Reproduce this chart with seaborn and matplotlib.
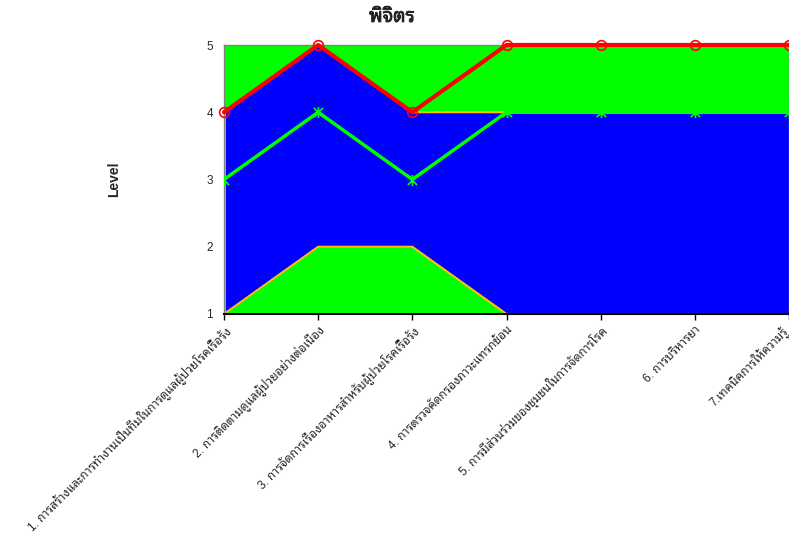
import matplotlib
matplotlib.use("Agg")
import matplotlib.pyplot as plt
import matplotlib.patheffects as pe
import matplotlib.transforms as mtransforms
from matplotlib import font_manager
from matplotlib.ft2font import FT2Font
from matplotlib.path import Path
import numpy as np
import pandas as pd
import seaborn as sns

categories = [
    "1. การสร้างและการทำงานเป็นทีมในการดูแลผู้ป่วยโรคเรื้อรัง",
    "2. การติดตามดูแลผู้ป่วยอย่างต่อเนื่อง",
    "3. การจัดการเรื่องอาหารสำหรับผู้ป่วยโรคเรื้อรัง",
    "4. การตรวจคัดกรองภาวะแทรกซ้อน",
    "5. การมีส่วนร่วมของชุมชนในการจัดการโรค",
    "6. การบริหารยา",
    "7.เทคนิคการให้ความรู้",
]
band_low = [1, 2, 2, 1, 1, 1, 1]
band_high = [4, 5, 4, 4, 4, 4, 4]
target = [4, 5, 4, 5, 5, 5, 5]
actual = [3, 4, 3, 4, 4, 4, 4]
yticks = [1, 2, 3, 4, 5]


def thai_fonts_available():
    found = {}
    for f in font_manager.fontManager.ttflist:
        try:
            cmap = FT2Font(f.fname).get_charmap()
        except Exception:
            continue
        if 0x0E01 in cmap and 0x0E23 in cmap:
            found.setdefault(f.name, set()).add(f.weight)
    return found


thai_fonts = thai_fonts_available()
preferred = ["Tahoma", "Noto Sans Thai Looped", "IBM Plex Sans Thai Looped",
             "Loma", "Noto Sans Thai"]
thai = next((p for p in preferred if p in thai_fonts),
            sorted(thai_fonts)[0] if thai_fonts else "DejaVu Sans")
weights = thai_fonts.get(thai, set())
has_bold = any(w in ("bold", 700) or (isinstance(w, int) and w >= 600) for w in weights)

sns.set_theme(style="white")
plt.rcParams["font.family"] = ["Liberation Sans", thai, "DejaVu Sans"]

fig = plt.figure(figsize=(7.89, 5.36), dpi=100)
ax = fig.add_axes([224 / 789, 1 - 314 / 536, 565 / 789, 269 / 536])

x = np.arange(len(categories))
df = pd.DataFrame({"x": x, "target": target, "actual": actual})

# green plot area with a blue band between the lower and upper bounds
ax.set_facecolor("#00FF00")
ax.fill_between(x, band_low, band_high, color="#0000FF", lw=0, zorder=1)
ax.plot(x, band_low, color="#FFC000", lw=1.5, zorder=2)
ax.plot(x, band_high, color="#FFC000", lw=1.5, zorder=2)
ax.plot([0, 0], [band_low[0], band_high[0]], color="#FFC000", lw=2, zorder=2)

star = Path(
    [(-1, -1), (1, 1), (-1, 1), (1, -1), (0, -1.2), (0, 1.2)],
    [Path.MOVETO, Path.LINETO, Path.MOVETO, Path.LINETO, Path.MOVETO, Path.LINETO],
)

sns.lineplot(data=df, x="x", y="actual", ax=ax, color="#00FF00", lw=2.5,
             marker=star, markersize=8, markeredgecolor="#00FF00",
             markeredgewidth=1.2, zorder=3)
sns.lineplot(data=df, x="x", y="target", ax=ax, color="#FF0000", lw=3,
             marker="o", markersize=7, markerfacecolor="none",
             markeredgecolor="#FF0000", markeredgewidth=1.2, zorder=4,
             clip_on=False)

ax.set_xlim(0, len(categories) - 1)
ax.set_ylim(1, 5)
ax.set_yticks(yticks)
ax.set_yticklabels([str(v) for v in yticks], fontsize=8.5)
ax.set_xticks(x)
ax.set_xticklabels(categories, rotation=45, ha="right", va="top",
                   rotation_mode="anchor", fontsize=8.5)
ax.tick_params(axis="x", direction="out", length=4, width=1, color="black",
               bottom=True, pad=3)
ax.tick_params(axis="y", length=0, pad=8)
ax.set_xlabel("")
ax.set_ylabel("Level", fontsize=10, fontweight="bold", labelpad=0)
ax.yaxis.set_label_coords(-0.182, 0.5)

# pull the last category label inside the figure edge
last = ax.get_xticklabels()[-1]
last.set_transform(last.get_transform() +
                   mtransforms.ScaledTranslation(-8 / 100, 0, fig.dpi_scale_trans))

for side in ["top", "left", "right"]:
    ax.spines[side].set_color("#808080")
    ax.spines[side].set_linewidth(1)
ax.spines["bottom"].set_color("black")
ax.spines["bottom"].set_linewidth(1.5)

title = fig.text(392 / 789, 1 - 17 / 536, "พิจิตร", ha="center", va="center",
                 fontsize=14, fontweight="bold", family=[thai, "DejaVu Sans"])
if not has_bold:
    title.set_path_effects([pe.withStroke(linewidth=0.5, foreground="black")])

fig.savefig("out.png", dpi=100)
